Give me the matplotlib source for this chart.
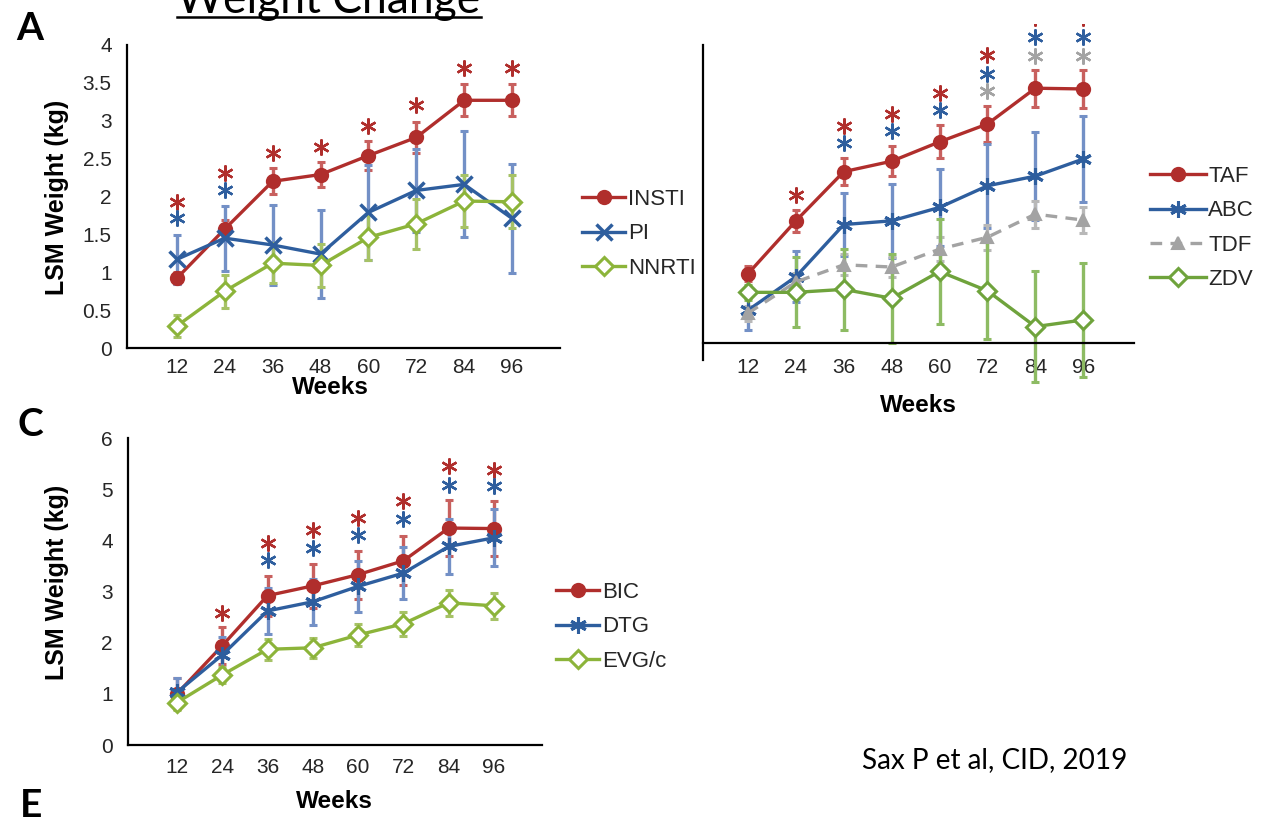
import numpy as np
import matplotlib
matplotlib.use("Agg")
import matplotlib.pyplot as plt
from matplotlib.patches import Rectangle

# ---------------- data ----------------
weeks = ["12", "24", "36", "48", "60", "72", "84", "96"]

# Panel A
insti = [0.92, 1.57, 2.20, 2.29, 2.54, 2.78, 3.27, 3.27]
insti_err = [0.08, 0.12, 0.17, 0.17, 0.19, 0.20, 0.21, 0.21]
pi = [1.17, 1.45, 1.36, 1.24, 1.79, 2.08, 2.16, 1.71]
pi_err = [0.32, 0.43, 0.53, 0.58, 0.63, 0.55, 0.70, 0.72]
nnrti = [0.29, 0.75, 1.12, 1.09, 1.46, 1.64, 1.94, 1.93]
nnrti_err = [0.15, 0.22, 0.26, 0.28, 0.30, 0.33, 0.34, 0.35]
a_star_red = [1.93, 2.31, 2.58, 2.66, 2.93, 3.21, 3.69, 3.69]
a_star_blue = [1.71, 2.08, np.nan, np.nan, np.nan, np.nan, np.nan, np.nan]

# Panel B
taf = [0.93, 1.64, 2.30, 2.44, 2.70, 2.94, 3.42, 3.41]
taf_err = [0.10, 0.15, 0.18, 0.20, 0.22, 0.24, 0.25, 0.26]
abc = [0.44, 0.89, 1.59, 1.64, 1.82, 2.11, 2.24, 2.47]
abc_err = [0.27, 0.34, 0.42, 0.50, 0.52, 0.56, 0.59, 0.58]
tdf = [0.40, 0.82, 1.05, 1.02, 1.26, 1.42, 1.73, 1.65]
tdf_err = [0.10, 0.12, 0.14, 0.14, 0.16, 0.17, 0.18, 0.18]
zdv = [0.68, 0.68, 0.72, 0.60, 0.96, 0.70, 0.22, 0.31]
zdv_err = [0.10, 0.47, 0.54, 0.60, 0.70, 0.65, 0.74, 0.77]
b_star_red = [np.nan, 1.99, 2.91, 3.08, 3.35, 3.86, 4.36, 4.36]
b_star_blue = [np.nan, np.nan, 2.68, 2.85, 3.13, 3.61, 4.11, 4.11]
b_star_grey = [np.nan, np.nan, np.nan, np.nan, np.nan, 3.38, 3.85, 3.85]

# Panel C
bic = [1.00, 1.94, 2.92, 3.11, 3.33, 3.60, 4.24, 4.23]
bic_err = [0.30, 0.36, 0.39, 0.43, 0.47, 0.48, 0.55, 0.53]
dtg = [1.03, 1.76, 2.62, 2.80, 3.10, 3.36, 3.88, 4.05]
dtg_err = [0.28, 0.35, 0.45, 0.45, 0.50, 0.50, 0.53, 0.56]
evg = [0.83, 1.37, 1.87, 1.90, 2.15, 2.37, 2.78, 2.72]
evg_err = [0.15, 0.15, 0.20, 0.20, 0.22, 0.23, 0.25, 0.25]
c_star_red = [np.nan, 2.58, 3.95, 4.21, 4.44, 4.76, 5.45, 5.38]
c_star_blue = [np.nan, np.nan, 3.62, 3.85, 4.11, 4.42, 5.09, 5.07]

# ---------------- style ----------------
RED, RED_E = "#B02E2C", "#C8605E"
BLUE, BLUE_E = "#2E5E9E", "#7390C6"
GREEN_A, GREEN_AE = "#8CB43A", "#A6C266"
GREEN_B, GREEN_BE = "#6FA33C", "#8DBB63"
GREY, GREY_E = "#A3A3A3", "#B8B8B8"
TXT = "#262626"

W, H = 1268, 821
fig = plt.figure(figsize=(W / 100, H / 100), dpi=100)
fig.patch.set_facecolor("white")
plt.rcParams["font.family"] = ["Liberation Sans", "DejaVu Sans"]


def rect(l, r, t, b):
    return [l / W, 1 - b / H, (r - l) / W, (b - t) / H]


def fx(px):
    return px / W


def fy(py):
    return 1 - py / H


x = np.arange(len(weeks))


def style_axes(ax, ylim, xlim, yticks=None, xpad=8):
    ax.set_xlim(*xlim)
    ax.set_ylim(*ylim)
    for s in ["top", "right"]:
        ax.spines[s].set_visible(False)
    for s in ["left", "bottom"]:
        ax.spines[s].set_linewidth(1.6)
        ax.spines[s].set_color("black")
    ax.set_xticks(x)
    ax.set_xticklabels(weeks)
    if yticks is None:
        ax.set_yticks([])
    else:
        ax.set_yticks(yticks)
        ax.set_yticklabels([("%g" % v) for v in yticks])
    ax.tick_params(axis="both", length=0, labelsize=15, labelcolor=TXT)
    ax.tick_params(axis="x", pad=xpad)
    ax.tick_params(axis="y", pad=11)
    ax.patch.set_alpha(0)


def series(ax, y, err, color, ecolor, marker, ms, mfc, mew, ls="-", label=None):
    cont = ax.errorbar(x, y, yerr=err, fmt="none", ecolor=ecolor, elinewidth=2.4,
                       capsize=3, capthick=2.2, zorder=2)
    for art in list(cont.lines[1]) + list(cont.lines[2]):
        art.set_clip_on(False)
    line, = ax.plot(x, y, color=color, lw=2.4, ls=ls, marker=marker, ms=ms,
                    mfc=mfc, mec=color, mew=mew, zorder=3, clip_on=False, label=label)
    return line


def stars(ax, ys, color):
    return ax.plot(x, ys, ls="none", marker=(6, 2, 0), ms=11.5, mew=1.7,
                   color=color, clip_on=False, zorder=4)[0]


ASTER = (6, 2, 0)

# ---------------- Panel A ----------------
axA = fig.add_axes(rect(127, 560, 45, 348))
style_axes(axA, (0, 4), (-1.04, 8.0), yticks=[0, 0.5, 1, 1.5, 2, 2.5, 3, 3.5, 4], xpad=7)
hA = [
    series(axA, insti, insti_err, RED, RED_E, "o", 9.5, RED, 1.5, label="INSTI"),
    series(axA, pi, pi_err, BLUE, BLUE_E, "x", 11, BLUE, 2.5, label="PI"),
    series(axA, nnrti, nnrti_err, GREEN_A, GREEN_AE, "D", 9, "white", 2.2, label="NNRTI"),
]
stars(axA, a_star_red, RED)
stars(axA, a_star_blue, BLUE)

# ---------------- Panel B ----------------
axB = fig.add_axes(rect(703, 1134, 45, 360))
style_axes(axB, (-0.228, 4), (-0.94, 8.06), xpad=11)
axB.spines["bottom"].set_position(("data", 0))
hB = [
    series(axB, taf, taf_err, RED, RED_E, "o", 9.5, RED, 1.5, label="TAF"),
    series(axB, abc, abc_err, BLUE, BLUE_E, ASTER, 12, BLUE, 2.2, label="ABC"),
    series(axB, tdf, tdf_err, GREY, GREY_E, "^", 9, GREY, 1.5, ls=(0, (3.5, 2.5)), label="TDF"),
    series(axB, zdv, zdv_err, GREEN_B, GREEN_BE, "D", 9, "white", 2.2, label="ZDV"),
]
srB = stars(axB, b_star_red, RED)
clip_rect = Rectangle((0, 0), 1, fy(24), transform=fig.transFigure, facecolor="none")
srB.set_clip_on(True)
srB.set_clip_path(clip_rect)
stars(axB, b_star_blue, BLUE)
stars(axB, b_star_grey, GREY)

# ---------------- Panel C ----------------
axC = fig.add_axes(rect(128, 542, 438, 745))
style_axes(axC, (0, 6), (-1.08, 8.06), yticks=[0, 1, 2, 3, 4, 5, 6], xpad=9)
hC = [
    series(axC, bic, bic_err, RED, RED_E, "o", 9.5, RED, 1.5, label="BIC"),
    series(axC, dtg, dtg_err, BLUE, BLUE_E, ASTER, 12, BLUE, 2.2, label="DTG"),
    series(axC, evg, evg_err, GREEN_A, GREEN_AE, "D", 9, "white", 2.2, label="EVG/c"),
]
stars(axC, c_star_red, RED)
stars(axC, c_star_blue, BLUE)

# ---------------- legends ----------------
def legend(handles, left_px, top_px, hl):
    lg = fig.legend(handles=handles, loc="upper left",
                    bbox_to_anchor=(fx(left_px), fy(top_px)),
                    bbox_transform=fig.transFigure, frameon=False,
                    fontsize=16, handlelength=hl, handletextpad=0.12,
                    labelspacing=0.6, borderpad=0, borderaxespad=0, numpoints=1)
    for t in lg.get_texts():
        t.set_color(TXT)
    return lg

legend(hA, 582, 189, 1.95)
legend(hB, 1150, 166, 2.5)
legend(hC, 556, 582, 1.95)

# ---------------- labels ----------------
lab = dict(fontsize=17.5, fontweight="bold", color="black", ha="center", va="center")
fig.text(fx(330), fy(387), "Weeks", **lab)
fig.text(fx(918), fy(405), "Weeks", **lab)
fig.text(fx(334), fy(801), "Weeks", **lab)
lab["fontsize"] = 18
fig.text(fx(57), fy(197), "LSM Weight (kg)", rotation=90, **lab)
fig.text(fx(57), fy(582), "LSM Weight (kg)", rotation=90, **lab)

pl = dict(fontsize=28, fontweight="bold", color="black", ha="center", va="center",
          family=["Lato", "DejaVu Sans"])
fig.text(fx(30), fy(28), "A", **pl)
fig.text(fx(30), fy(424), "C", **pl)
fig.text(fx(31), fy(805), "E", **pl)

# title (cut off at the top, as in the source) with underline
title = fig.text(fx(177), fy(13), "Weight Change", ha="left", va="baseline",
                 fontsize=30, color="black", family=["Lato", "DejaVu Sans"])
cite = fig.text(fx(862), fy(760), "Sax P et al, CID, 2019", ha="left", va="center",
                fontsize=15, color="black", family=["Lato", "DejaVu Sans"])
fig.canvas.draw()
r = fig.canvas.get_renderer()
for t, target in [(title, 303), (cite, 266)]:
    w = t.get_window_extent(r).width
    t.set_fontsize(t.get_fontsize() * target / w)
fig.add_artist(plt.Line2D([fx(177), fx(481)], [fy(17.5), fy(17.5)],
                          transform=fig.transFigure, color="black", lw=1.8))

fig.savefig("out.png", dpi=100, facecolor="white")
